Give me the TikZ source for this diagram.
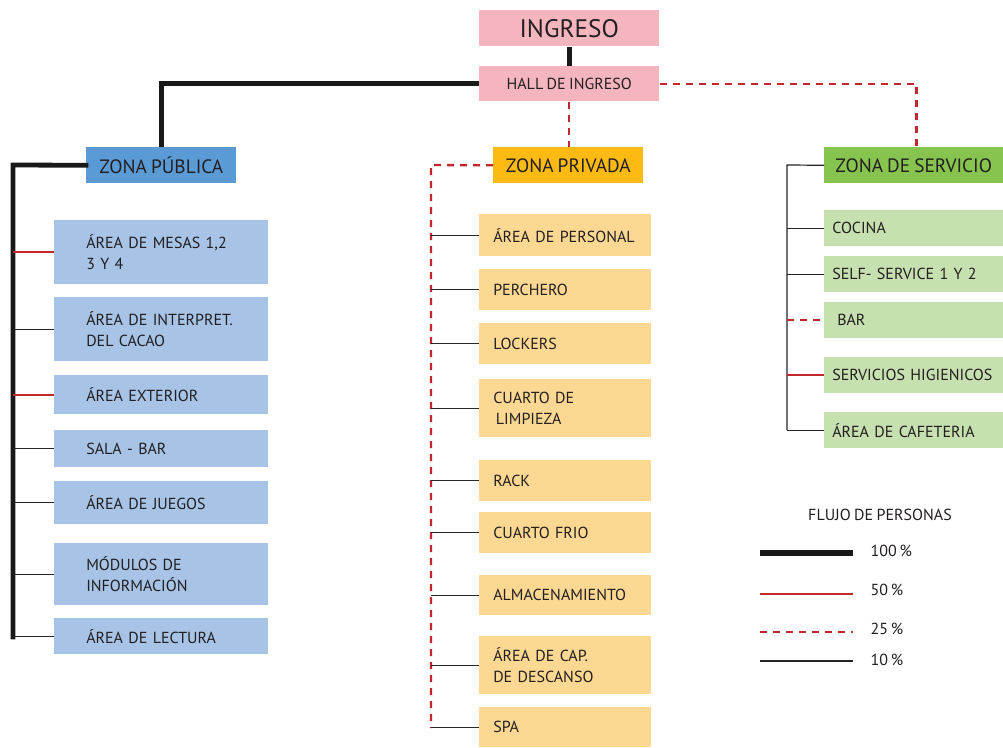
\documentclass[tikz,border=0pt]{standalone}
\usepackage{fontspec}
\setmainfont{PT Sans}[WordSpace=0.8]
\definecolor{pinkb}{HTML}{F5B5BE}
\definecolor{bluez}{HTML}{5B9BD5}
\definecolor{bluel}{HTML}{A7C3E6}
\definecolor{orz}{HTML}{FDBA12}
\definecolor{orl}{HTML}{FDD893}
\definecolor{grz}{HTML}{86C44F}
\definecolor{grl}{HTML}{C6E0B0}
\definecolor{redf}{HTML}{C1272D}
\definecolor{txt}{HTML}{231F20}
% name, x1, y1, x2, y2, style, pad, text
\newcommand\mylbox[8]{\node[base,#6,inner xsep={#7*0.75pt},text width={(#4-#2-2*#7)*0.75pt},minimum height={(#5-#3)*0.75pt},align=left] (#1) at (#2,#3) {#8};}
% name, x1, y1, x2, y2, style, text
\newcommand\mycbox[7]{\node[base,#6,inner xsep=0pt,minimum width={(#4-#2)*0.75pt},minimum height={(#5-#3)*0.75pt},align=center] (#1) at (#2,#3) {#7};}
\begin{document}
\begin{tikzpicture}[x=0.75pt,y=-0.75pt,
  every node/.style={text=txt},
  base/.style={rectangle, inner ysep=0pt, anchor=north west},
  sf/.style={font=\fontsize{12}{16}\selectfont},
  bf/.style={font=\fontsize{14.5}{16}\selectfont},
  hf/.style={font=\fontsize{19}{21}\selectfont},
  pinkbox/.style={fill=pinkb},
  pubz/.style={fill=bluez, bf},
  publ/.style={fill=bluel, sf},
  privz/.style={fill=orz, bf},
  privl/.style={fill=orl, sf},
  servz/.style={fill=grz, bf},
  servl/.style={fill=grl, sf},
  p100/.style={line width=3.6pt, black!90},
  p50/.style={line width=1.6pt, redf},
  p25/.style={line width=1.8pt, redf, dash pattern=on 5.25pt off 4.5pt},
  p10/.style={line width=0.9pt, black!85},
]
\useasboundingbox[fill=white] (0,0) rectangle (1003,747);

% top
\mycbox{ing}{479}{10}{659}{46}{pinkbox,hf}{INGRESO}
\mycbox{hall}{479}{66}{659}{101}{pinkbox,sf}{HALL DE INGRESO}

% zones
\mycbox{zpub}{86}{147}{236}{183}{pubz}{ZONA PÚBLICA}
\mycbox{zpriv}{493}{147}{643}{183}{privz}{ZONA PRIVADA}
\mycbox{zserv}{824}{147}{1003}{183}{servz}{ZONA DE SERVICIO}

% public boxes
\mylbox{mesas}{54}{220}{268}{284}{publ}{32}{ÁREA~DE~MESAS~1,2\\3~Y~4}
\mylbox{interp}{54}{297}{268}{361}{publ}{32}{ÁREA~DE~INTERPRET.\\DEL~CACAO}
\mylbox{ext}{54}{375}{268}{414}{publ}{32}{ÁREA~EXTERIOR}
\mylbox{sala}{54}{430}{268}{467}{publ}{32}{SALA~-~BAR}
\mylbox{juegos}{54}{481}{268}{524}{publ}{32}{ÁREA~DE~JUEGOS}
\mylbox{modulos}{54}{543}{268}{605}{publ}{32}{MÓDULOS~DE\\INFORMACIÓN}
\mylbox{lectura}{54}{618}{268}{654}{publ}{32}{ÁREA~DE~LECTURA}

% private boxes
\mylbox{personal}{479}{214}{651}{256}{privl}{14}{ÁREA~DE~PERSONAL}
\mylbox{perchero}{479}{269}{651}{310}{privl}{14}{PERCHERO}
\mylbox{lockers}{479}{323}{651}{364}{privl}{14}{LOCKERS}
\mylbox{limpieza}{479}{379}{651}{437}{privl}{14}{CUARTO~DE\\\hspace*{2pt}LIMPIEZA}
\mylbox{rack}{479}{460}{651}{501}{privl}{14}{RACK}
\mylbox{frio}{479}{512}{651}{553}{privl}{14}{CUARTO~FRIO\\[-6pt]}
\mylbox{almac}{479}{575}{651}{615}{privl}{14}{ALMACENAMIENTO}
\mylbox{cap}{479}{636}{651}{694}{privl}{14}{ÁREA~DE~CAP.\\DE~DESCANSO}
\mylbox{spa}{479}{707}{651}{747}{privl}{14}{SPA}

% service boxes
\mylbox{cocina}{824}{210}{1003}{246}{servl}{8}{COCINA}
\mylbox{self}{824}{256}{1003}{292}{servl}{8}{SELF-~SERVICE~1~Y~2}
\mylbox{bar}{824}{302}{1003}{338}{servl}{13}{BAR}
\mylbox{hig}{824}{357}{1003}{393}{servl}{8}{SERVICIOS~HIGIENICOS}
\mylbox{cafe}{824}{412}{1003}{448}{servl}{8}{ÁREA~DE~CAFETERIA}

% main connectors
\draw[p100] (ing.south) -- (hall.north);
\draw[p100] (hall.west) -| (zpub.north);
\draw[p25] (hall.south) -- (hall.south |- zpriv.north);
\draw[p25] (hall.east) -- ++(257,0) coordinate (sc) -- (sc |- zserv.north);

% public trunk
\coordinate (lt) at (13,165);
\coordinate (lb) at (13,637);
\draw[p100, line cap=rect] (zpub.west) -- (lt) -- (lb);
\draw[p50] (lt |- mesas.west) -- (mesas.west);
\draw[p10] (lt |- interp.west) -- (interp.west);
\draw[p50] (lt |- ext.west) -- (ext.west);
\draw[p10] (lt |- sala.west) -- (sala.west);
\draw[p10] (lt |- juegos.west) -- (juegos.west);
\draw[p10] (lt |- modulos.west) -- (modulos.west);
\draw[p10] (lt |- lectura.west) -- (lectura.west);

% private trunk
\coordinate (mt) at (431,165);
\coordinate (mb) at (431,728);
\draw[p25] (zpriv.west) -- (mt) -- (mb);
\foreach \n in {personal,perchero,lockers,limpieza,rack,frio,almac,cap,spa}
  \draw[p10] (mt |- \n.west) -- (\n.west);

% service trunk
\coordinate (rt) at (787,165);
\coordinate (rb) at (787,430);
\draw[p10] (zserv.west) -- (rt) -- (rb);
\draw[p10] (rt |- cocina.west) -- (cocina.west);
\draw[p10] (rt |- self.west) -- (self.west);
\draw[p25] (rt |- bar.west) -- (bar.west);
\draw[p50] (rt |- hig.west) -- (hig.west);
\draw[p10] (rt |- cafe.west) -- (cafe.west);

% legend
\node[sf] (lgt) at (880,515) {FLUJO DE PERSONAS};
\node[sf, anchor=west] (l100) at (866,551) {100\,\%};
\node[sf, anchor=west] (l50) at (866,590) {50\,\%};
\node[sf, anchor=west] (l25) at (866,629) {25\,\%};
\node[sf, anchor=west] (l10) at (866,660) {10\,\%};
\coordinate (a1) at (760,553); \coordinate (b1) at (853,553);
\coordinate (a2) at (760,594); \coordinate (b2) at (853,594);
\coordinate (a3) at (760,632); \coordinate (b3) at (853,632);
\coordinate (a4) at (760,661); \coordinate (b4) at (853,661);
\draw[p100, line width=4.5pt] (a1) -- (b1);
\draw[p50] (a2) -- (b2);
\draw[p25] (a3) -- (b3);
\draw[p10] (a4) -- (b4);
\end{tikzpicture}
\end{document}
